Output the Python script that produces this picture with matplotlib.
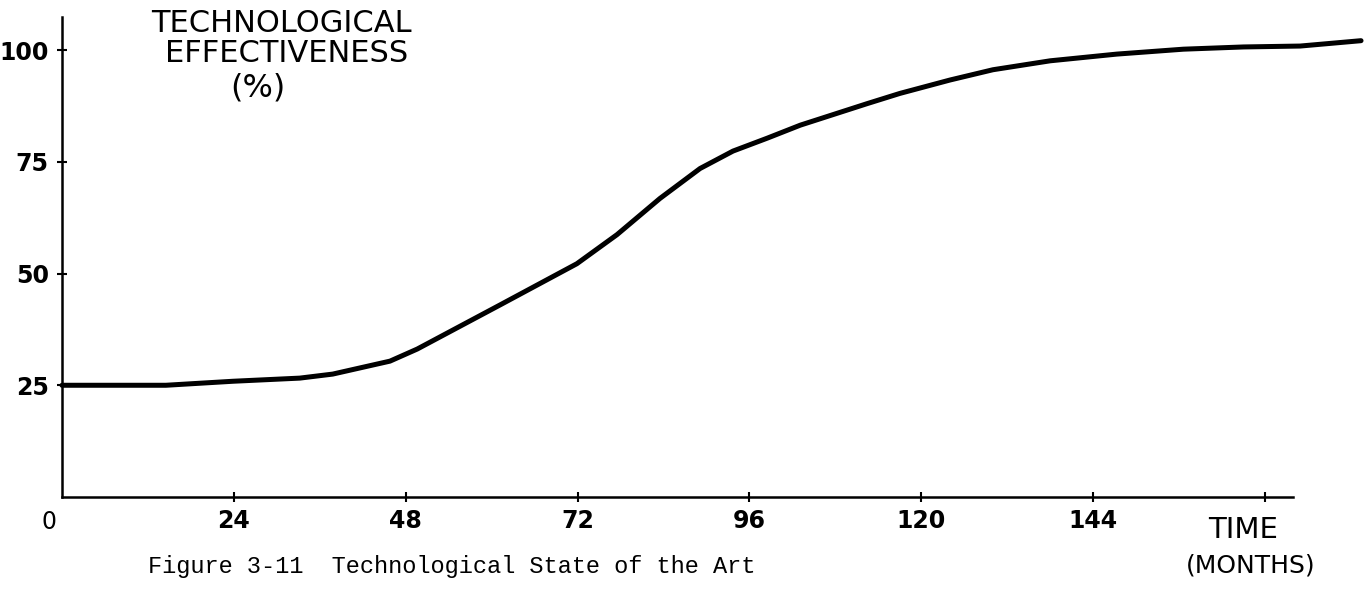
import matplotlib
matplotlib.use("Agg")
import matplotlib.pyplot as plt

# (months, % effectiveness)
MONTHS = [0, 14.5, 23.9, 33.2, 37.8, 45.8, 49.6, 61.2, 71.9, 77.5, 83.5, 89.1,
          93.7, 98.5, 103.1, 112.4, 117.0, 124.0, 130.0, 138.0, 147.3, 156.6,
          165.0, 172.9, 181.4]
EFFECT = [25.0, 25.0, 25.9, 26.6, 27.5, 30.4, 33.1, 43.0, 52.2, 58.7, 66.8, 73.5,
          77.4, 80.3, 83.2, 88.0, 90.3, 93.3, 95.6, 97.6, 99.1, 100.2,
          100.7, 100.9, 102.1]

X_TICKS = [24, 48, 72, 96, 120, 144, 168]
X_LABELS = ["24", "48", "72", "96", "120", "144", ""]
Y_TICKS = [25, 50, 75, 100]
Y_LABELS = ["25", "50", "75", "100"]

W, H = 1364, 592
HAND = "DejaVu Sans"


def fx(x):
    return x / W


def fy(y):
    return 1 - y / H


fig = plt.figure(figsize=(W / 100, H / 100), dpi=100)
ax = fig.add_axes([fx(62), fy(497), (1293 - 62) / W, (497 - 17) / H])

ax.plot(MONTHS, EFFECT, color="black", lw=3.6, solid_capstyle="round",
        solid_joinstyle="round", clip_on=False)

ax.set_xlim(0, 171.9)
ax.set_ylim(0, 107.4)
for s in ["top", "right"]:
    ax.spines[s].set_visible(False)
for s in ["left", "bottom"]:
    ax.spines[s].set_linewidth(1.8)

ax.set_xticks(X_TICKS)
ax.set_xticklabels(X_LABELS, fontsize=17, family=HAND, fontweight="bold")
ax.set_yticks(Y_TICKS)
ax.set_yticklabels(Y_LABELS, fontsize=17, family=HAND, fontweight="bold")
ax.tick_params(axis="x", direction="inout", length=7, width=1.5, pad=5)
ax.tick_params(axis="y", direction="inout", length=7, width=1.5, pad=6)

# origin label sits left of the axis
fig.text(fx(49), fy(522), "0", fontsize=17, family=HAND, ha="center", va="center")

# hand-lettered axis titles
fig.text(fx(281), fy(23), "TECHNOLOGICAL", fontsize=22, family=HAND, ha="center", va="center")
fig.text(fx(287), fy(53), "EFFECTIVENESS", fontsize=22, family=HAND, ha="center", va="center")
fig.text(fx(258), fy(88), "(%)", fontsize=23, family=HAND, ha="center", va="center")
fig.text(fx(1243), fy(530), "TIME", fontsize=21, family=HAND, ha="center", va="center")
fig.text(fx(1251), fy(566), "(MONTHS)", fontsize=18, family=HAND, ha="center", va="center")

fig.text(fx(148), fy(567), "Figure 3-11  Technological State of the Art",
         fontsize=17, family="Liberation Mono", ha="left", va="center")

fig.savefig("out.png", dpi=100)
